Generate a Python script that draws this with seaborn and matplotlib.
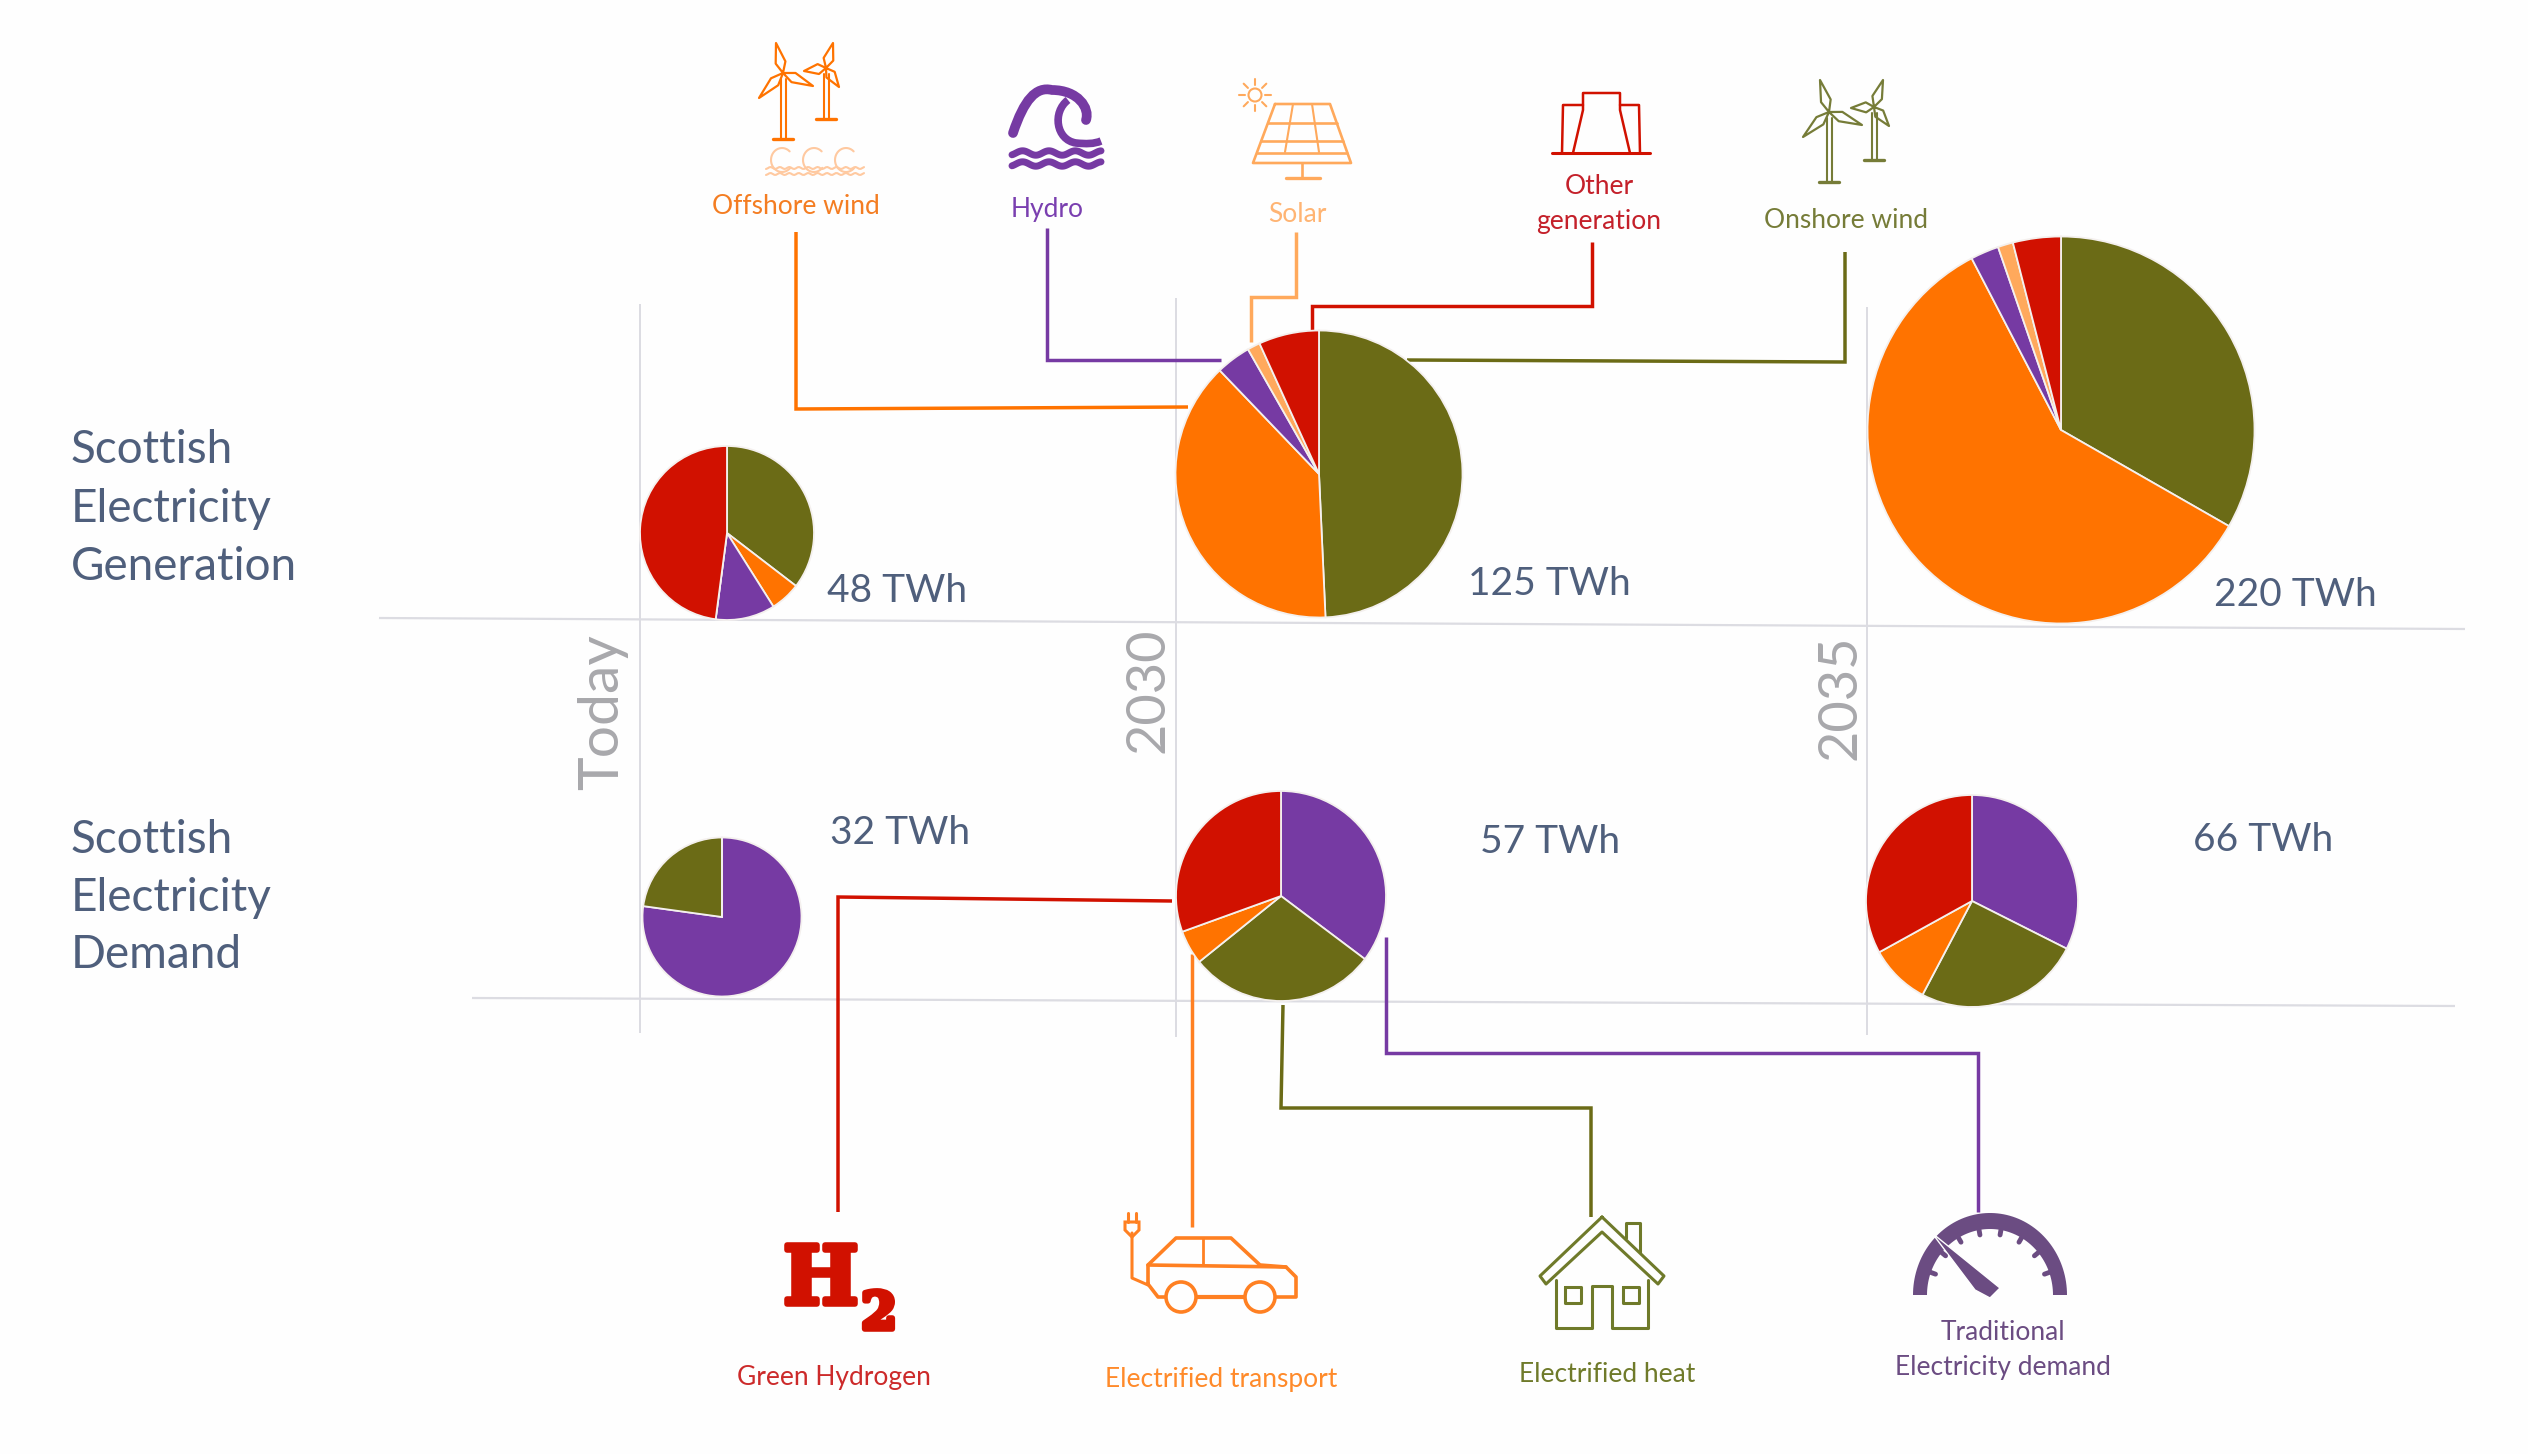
import numpy as np
import matplotlib
matplotlib.use("Agg")
import matplotlib.pyplot as plt
import matplotlib.patheffects as pe
from matplotlib.patches import Polygon, Circle, PathPatch
from matplotlib.path import Path
import seaborn as sns

# generation mix, TWh (clockwise from 12 o'clock)
gen_labels = ["Onshore wind", "Offshore wind", "Hydro", "Solar", "Other generation"]
gen_today = [17.0, 2.7, 5.3, 0.0, 23.0]
gen_2030 = [61.6, 48.2, 4.9, 1.8, 8.5]
gen_2035 = [73.2, 130.0, 5.2, 2.8, 8.8]

# demand mix, TWh
dem_labels = ["Traditional", "Electrified heat", "Electrified transport", "Green Hydrogen"]
dem_today = [24.7, 7.3, 0.0, 0.0]
dem_2030 = [20.1, 16.5, 3.0, 17.4]
dem_2035 = [21.4, 16.7, 6.1, 21.8]

total_labels = ["48 TWh", "125 TWh", "220 TWh", "32 TWh", "57 TWh", "66 TWh"]
years = ["Today", "2030", "2035"]

OLIVE = "#6b6b16"
ORANGE = "#ff7300"
PURPLE = "#763aa3"
RED = "#d11100"
SOLAR = "#ffa95c"
SLATE = "#4f5f7c"
GRID = "#dcdce2"
GREY = "#a8a8ac"
gen_colors = sns.color_palette([OLIVE, ORANGE, PURPLE, SOLAR, RED])
dem_colors = sns.color_palette([PURPLE, OLIVE, ORANGE, RED])

sns.set_theme(style="white")
plt.rcParams["font.family"] = ["Lato", "DejaVu Sans"]

W, H = 2528, 1454
fig = plt.figure(figsize=(W / 100, H / 100), dpi=100, facecolor="#fefefe")
ax = fig.add_axes([0, 0, 1, 1])
ax.set_xlim(0, W)
ax.set_ylim(H, 0)
ax.axis("off")


def pie(values, colors, cx, cy, r):
    a = fig.add_axes([(cx - r - 2) / W, 1 - (cy + r + 2) / H, (2 * r + 4) / W, (2 * r + 4) / H])
    a.pie(values, colors=colors, startangle=90, counterclock=False, radius=r / (r + 2),
          wedgeprops={"edgecolor": "#f4f0ee", "linewidth": 1.3})
    a.set_xlim(-1, 1)
    a.set_ylim(-1, 1)


def link(xs, ys, color, lw=2.5):
    sns.lineplot(x=xs, y=ys, sort=False, estimator=None, color=color, lw=lw, ax=ax,
                 legend=False, solid_joinstyle="miter", solid_capstyle="butt")


def stroke(pts, color, lw=1.6, closed=False):
    pts = list(pts)
    if closed:
        pts.append(pts[0])
    arr = np.array(pts)
    ax.plot(arr[:, 0], arr[:, 1], color=color, lw=lw, solid_joinstyle="round", solid_capstyle="round")


def blade(hub, tip, color):
    hub, tip = np.array(hub, float), np.array(tip, float)
    d = tip - hub
    n = np.array([-d[1], d[0]]) / np.hypot(*d)
    m = hub + 0.35 * d
    stroke([hub, m + n * 5, tip, m - n * 5], color, 1.6, closed=True)


def turbine(hub, tips, base_y, color):
    x, y = hub
    for t in tips:
        blade(hub, t, color)
    stroke([(x - 2.5, y + 6), (x - 2.5, base_y)], color, 1.5)
    stroke([(x + 2.5, y + 6), (x + 2.5, base_y)], color, 1.5)
    stroke([(x - 10, base_y), (x + 10, base_y)], color, 2.4)


# grid
link([379, 2465], [618, 629], GRID, 1.6)
link([472, 2455], [998, 1006], GRID, 1.6)
for x, y0, y1 in [(640, 304, 1033), (1176, 298, 1037), (1867, 307, 1035)]:
    link([x, x], [y0, y1], GRID, 1.4)

# connectors, generation side
link([796, 796, 1188], [232, 409, 407], ORANGE)
link([1047, 1047, 1221], [228, 360, 360], PURPLE)
link([1296, 1296, 1251, 1251], [232, 297, 297, 342], SOLAR)
link([1592, 1592, 1312, 1312], [242, 306, 306, 330], RED)
link([1845, 1845, 1407], [252, 362, 360], OLIVE)

# connectors, demand side
link([838, 838, 1172], [1212, 897, 901], RED)
link([1192, 1192], [954, 1227], "#ff8022")
link([1283, 1281, 1591, 1591], [1005, 1108, 1108, 1217], OLIVE)
link([1386, 1386, 1978, 1978], [937, 1053, 1053, 1212], PURPLE)

# pies
pie(gen_today, gen_colors, 727, 533, 87)
pie(gen_2030, gen_colors, 1319, 474, 143.5)
pie(gen_2035, gen_colors, 2061, 430, 193.5)
pie(dem_today, dem_colors, 722, 917, 79.5)
pie(dem_2030, dem_colors, 1281, 896, 105)
pie(dem_2035, dem_colors, 1972, 901, 106)

# left titles
for lines, ys in [(["Scottish", "Electricity", "Generation"], [463, 522, 580]),
                  (["Scottish", "Electricity", "Demand"], [853, 911, 968])]:
    for s, y in zip(lines, ys):
        ax.text(71, y, s, fontsize=33, color=SLATE, va="baseline", ha="left")

# totals
total_pos = [(897, 602), (1549, 595), (2295, 606), (900, 844), (1550, 853), (2263, 851)]
for s, (x, y) in zip(total_labels, total_pos):
    ax.text(x, y, s, fontsize=28, color=SLATE, ha="center", va="baseline")

# year labels
for s, x, y, fs in zip(years, [618, 1163, 1855], [712, 690, 697], [41, 39, 39]):
    ax.text(x, y, s, fontsize=fs, color=GREY, rotation=90, ha="center", va="baseline", rotation_mode="anchor")

# icon labels
icon_labels = [("Offshore wind", 796, 206, "#f47d22"), ("Hydro", 1047, 209, "#7a3fb0"), ("Solar", 1297, 215, "#ffb473"),
               ("Other", 1599, 187, "#c4202a"), ("generation", 1599, 221, "#c4202a"), ("Onshore wind", 1846, 220, "#767c38"),
               ("Green Hydrogen", 834, 1377, "#cc2a2a"), ("Electrified transport", 1221, 1380, "#ff8a2a"),
               ("Electrified heat", 1607, 1374, "#6f7a2a"), ("Traditional", 2003, 1332, "#6b4c82"),
               ("Electricity demand", 2003, 1367, "#6b4c82")]
for s, x, y, c in icon_labels:
    ax.text(x, y, s, fontsize=19, color=c, ha="center", va="center")

# offshore wind icon
turbine((783, 73), [(776, 43), (813, 86), (759, 98)], 139, ORANGE)
turbine((826, 68), [(833, 43), (804, 71), (839, 87)], 119, ORANGE)
for x0 in [770, 802, 834]:
    t = np.linspace(0.2, 1.9 * np.pi / 1.2, 30)
    stroke(np.c_[x0 + 12 + 11 * np.cos(t + 0.6), 160 - 12 * np.sin(t + 0.6)], "#ffc9a0", 1.5)
xs = np.linspace(766, 864, 60)
stroke(np.c_[xs, 168 + np.sin(xs / 1.5)], "#ffc9a0", 1.5)
stroke(np.c_[xs, 174 + np.sin(xs / 1.5)], "#ffc9a0", 1.5)

# hydro icon
curl = Path([(1013, 133), (1024, 100), (1036, 86), (1052, 90), (1078, 90), (1090, 108), (1086, 120)],
            [Path.MOVETO, Path.CURVE4, Path.CURVE4, Path.CURVE4, Path.CURVE4, Path.CURVE4, Path.CURVE4])
ax.add_patch(PathPatch(curl, fc="none", ec=PURPLE, lw=7, capstyle="round"))
curl2 = Path([(1068, 100), (1052, 112), (1056, 140), (1076, 143), (1086, 144), (1094, 144), (1101, 141)],
             [Path.MOVETO, Path.CURVE4, Path.CURVE4, Path.CURVE4, Path.CURVE4, Path.CURVE4, Path.CURVE4])
ax.add_patch(PathPatch(curl2, fc="none", ec=PURPLE, lw=5.5))
xs = np.linspace(1012, 1101, 80)
for y0 in [153, 164]:
    stroke(np.c_[xs, y0 + 2.2 * np.sin(xs / 4.2)], PURPLE, 5)

# solar icon
sun = SOLAR
ax.add_patch(Circle((1255, 95), 6.5, fc="none", ec=sun, lw=1.5))
for a in np.arange(0, 360, 45):
    r = np.radians(a)
    stroke([(1255 + 10 * np.cos(r), 95 + 10 * np.sin(r)), (1255 + 16 * np.cos(r), 95 + 16 * np.sin(r))], sun, 1.5)
stroke([(1275, 104), (1330, 104), (1351, 163), (1253, 163)], sun, 1.9, closed=True)
for f in [0.33, 0.63, 0.83]:
    stroke([(1275 - 22 * f, 104 + 59 * f), (1330 + 21 * f, 104 + 59 * f)], sun, 1.9)
stroke([(1293, 104), (1285, 152)], sun, 1.5)
stroke([(1312, 104), (1319, 152)], sun, 1.5)
stroke([(1302, 163), (1302, 178)], sun, 1.9)
stroke([(1286, 178), (1320, 178)], sun, 2.4)

# other generation icon
stroke([(1552, 153), (1650, 153)], RED, 2.2)
stroke([(1573, 153), (1583, 110), (1583, 93), (1620, 93), (1620, 110), (1630, 153)], RED, 1.8)
stroke([(1562, 153), (1563, 105), (1583, 105)], RED, 1.8)
stroke([(1640, 153), (1639, 105), (1620, 105)], RED, 1.8)

# onshore wind icon
onshore = "#767c38"
turbine((1829, 112), [(1820, 80), (1862, 125), (1803, 137)], 182, onshore)
turbine((1874, 107), [(1883, 80), (1851, 108), (1889, 126)], 160, onshore)

# hydrogen icon, real text
fat = [pe.withStroke(linewidth=4, foreground=RED)]
ax.text(821, 1304, "H", fontsize=58, color=RED, family="DejaVu Serif", weight="bold", ha="center", va="baseline",
        path_effects=fat)
ax.text(879, 1329, "2", fontsize=37, color=RED, family="DejaVu Serif", weight="bold", ha="center", va="baseline",
        path_effects=fat)

# car icon
car = "#ff8022"
stroke([(1148, 1283), (1148, 1265), (1176, 1238), (1231, 1238), (1260, 1265), (1286, 1267), (1296, 1277),
        (1296, 1297), (1276, 1297)], car, 2.6)
stroke([(1148, 1265), (1286, 1267)], car, 2.6)
stroke([(1203, 1238), (1203, 1265)], car, 2)
stroke([(1197, 1297), (1244, 1297)], car, 3)
stroke([(1148, 1283), (1148, 1284), (1158, 1297), (1165, 1297)], car, 2.6)
for x in [1181, 1260]:
    ax.add_patch(Circle((x, 1297), 15, fc="none", ec=car, lw=2.6))
stroke([(1132, 1233), (1132, 1278), (1148, 1285)], car, 2.2)
ax.add_patch(Polygon([(1125, 1222), (1139, 1222), (1139, 1230), (1132, 1237), (1125, 1230)], fc="none", ec=car, lw=2.2))
stroke([(1128, 1213), (1128, 1222)], car, 2.2)
stroke([(1136, 1213), (1136, 1222)], car, 2.2)

# house icon
house = "#6f7a2a"
stroke([(1602, 1217), (1664, 1276), (1658, 1284), (1602, 1232), (1546, 1284), (1540, 1276)], house, 2.2, closed=True)
stroke([(1556, 1280), (1556, 1328), (1592, 1328), (1592, 1286), (1612, 1286), (1612, 1328), (1648, 1328), (1648, 1280)], house, 2.2)
stroke([(1626, 1238), (1626, 1223), (1640, 1223), (1640, 1252)], house, 2.2)
for x in [1573, 1631]:
    stroke([(x - 8, 1287), (x + 8, 1287), (x + 8, 1303), (x - 8, 1303)], house, 2.2, closed=True)

# gauge icon
gauge = "#6b4c82"
a = np.radians(np.linspace(180, 360, 80))
outer = np.c_[1990 + 77 * np.cos(a), 1295 + 82 * np.sin(a)]
inner = np.c_[1990 + 63 * np.cos(a), 1295 + 66 * np.sin(a)]
ax.add_patch(Polygon(np.r_[outer, inner[::-1]], fc=gauge, ec="none"))
for d in np.arange(200, 350, 20):
    r = np.radians(d)
    stroke([(1990 + 64 * np.cos(r), 1295 + 67 * np.sin(r)), (1990 + 58 * np.cos(r), 1295 + 61 * np.sin(r))], gauge, 3.5)
ax.add_patch(Polygon([(1932, 1233), (1975, 1290), (1990, 1298), (2000, 1288)], fc=gauge, ec="white", lw=1))

fig.savefig("out.png", dpi=100, facecolor=fig.get_facecolor())
